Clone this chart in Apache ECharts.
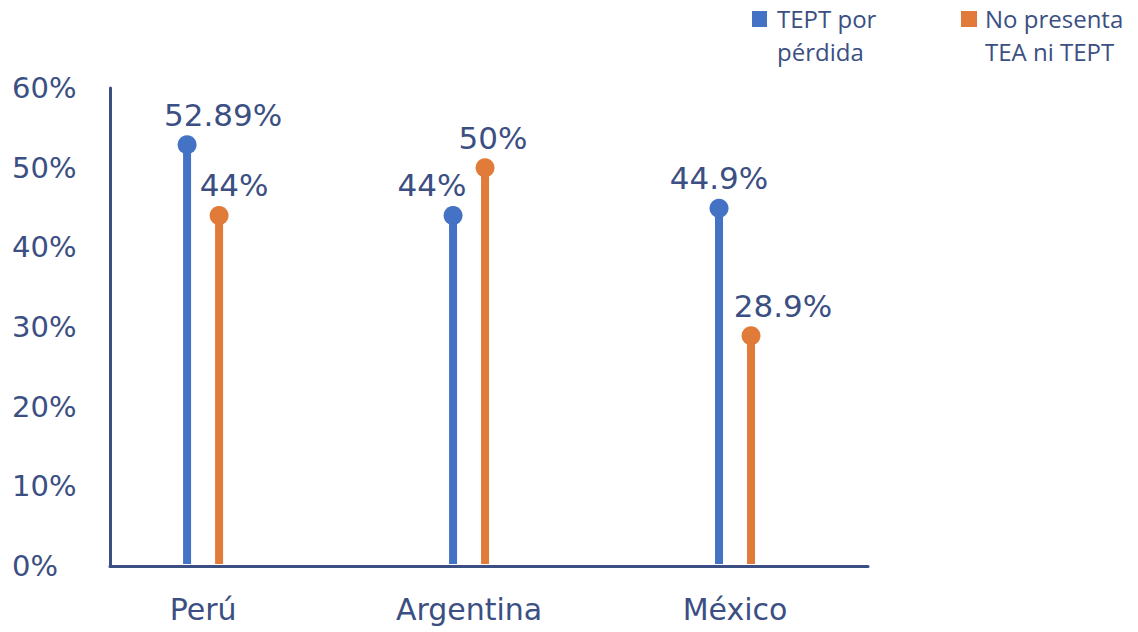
<!DOCTYPE html>
<html>
<head>
<meta charset="utf-8">
<script src="https://cdn.jsdelivr.net/npm/echarts@6/dist/echarts.min.js"></script>
<style>
  html, body { margin: 0; padding: 0; background: #fff; }
  #chart { width: 1138px; height: 632px; }
</style>
</head>
<body>
<div id="chart"></div>
<script>
const categories = ['Perú', 'Argentina', 'México'];
const seriesNames = ['TEPT por\npérdida', 'No presenta\nTEA ni TEPT'];
const teptValues = [52.89, 44, 44.9];
const noPresentaValues = [44, 50, 28.9];
const yTicks = [0, 10, 20, 30, 40, 50, 60];

// label nudges (px) so the value labels don't sit on the neighbouring stem
const teptLabelShift = [36, -21, 0];
const noPresentaLabelShift = [15, 8, 32];

const navy = '#3b4f82';
const colors = ['#4472c4', '#e07b39'];
const numFont = '"DejaVu Sans", sans-serif';

const chart = echarts.init(document.getElementById('chart'), null, { renderer: 'svg' });

function lollipop(shift, color, labelShift) {
  return function (params, api) {
    const idx = api.value(0);
    const v = api.value(1);
    const top = api.coord([idx, v]);
    const base = api.coord([idx, 0]);
    const x = top[0] + shift;
    return {
      type: 'group',
      children: [{
        type: 'line',
        shape: { x1: x, y1: base[1] - 2, x2: x, y2: top[1] },
        style: { stroke: color, lineWidth: 8 }
      }, {
        type: 'circle',
        shape: { cx: x, cy: top[1], r: 9.5 },
        style: { fill: color }
      }, {
        type: 'text',
        x: x + labelShift[params.dataIndex],
        y: top[1] - 30,
        style: {
          text: v + '%',
          fill: navy,
          font: '31px ' + numFont,
          align: 'center',
          verticalAlign: 'middle'
        }
      }]
    };
  };
}

const tept = teptValues.map((v, i) => [i, v]);
const noPresenta = noPresentaValues.map((v, i) => [i, v]);

chart.setOption({
  animation: false,
  grid: { left: 110, right: 270, top: 88, bottom: 66, containLabel: false },
  xAxis: {
    type: 'value',
    min: -0.35,
    max: 2.5,
    splitLine: { show: false },
    axisLine: { onZero: false, lineStyle: { color: navy, width: 3 } },
    axisTick: { show: false },
    axisLabel: {
      color: navy, fontFamily: numFont, fontSize: 30, margin: 28,
      customValues: categories.map((c, i) => i),
      formatter: v => categories[Math.round(v)]
    }
  },
  yAxis: {
    type: 'value',
    min: yTicks[0],
    max: yTicks[yTicks.length - 1],
    interval: 10,
    axisLine: { show: true, onZero: false, lineStyle: { color: navy, width: 3 } },
    axisTick: { show: false },
    splitLine: { show: false },
    axisLabel: {
      color: navy, fontFamily: numFont, fontSize: 29,
      align: 'left', margin: 98,
      formatter: v => v + '%'
    }
  },
  graphic: [
    { type: 'rect', shape: { x: 752, y: 11, width: 15, height: 16 }, style: { fill: colors[0] } },
    { type: 'text', x: 777, y: 2, style: { text: seriesNames[0], fill: navy, font: '24px "Open Sans", sans-serif', lineHeight: 33, verticalAlign: 'top' } },
    { type: 'rect', shape: { x: 961, y: 11, width: 16, height: 16 }, style: { fill: colors[1] } },
    { type: 'text', x: 985, y: 2, style: { text: seriesNames[1], fill: navy, font: '24px "Open Sans", sans-serif', lineHeight: 33, verticalAlign: 'top' } }
  ],
  series: [{
    name: seriesNames[0],
    type: 'custom',
    renderItem: lollipop(-16, colors[0], teptLabelShift),
    data: tept
  }, {
    name: seriesNames[1],
    type: 'custom',
    renderItem: lollipop(16, colors[1], noPresentaLabelShift),
    data: noPresenta
  }]
});
</script>
</body>
</html>
